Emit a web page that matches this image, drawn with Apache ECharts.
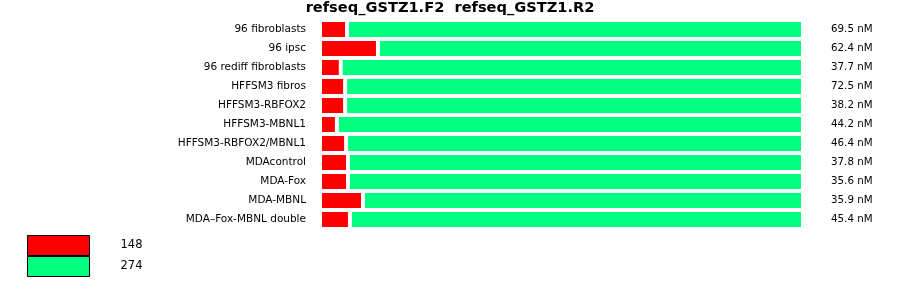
<!DOCTYPE html>
<html>
<head>
<meta charset="utf-8">
<script src="https://cdn.jsdelivr.net/npm/echarts@6/dist/echarts.min.js"></script>
<style>html,body{margin:0;padding:0;background:#fff}#c{width:900px;height:299px}</style>
</head>
<body>
<div id="c"></div>
<script>
var titleText = 'refseq_GSTZ1.F2  refseq_GSTZ1.R2';
var categories = ['96 fibroblasts','96 ipsc','96 rediff fibroblasts','HFFSM3 fibros','HFFSM3-RBFOX2','HFFSM3-MBNL1','HFFSM3-RBFOX2/MBNL1','MDAcontrol','MDA-Fox','MDA-MBNL','MDA–Fox-MBNL double'];
var concLabels = ['69.5 nM','62.4 nM','37.7 nM','72.5 nM','38.2 nM','44.2 nM','46.4 nM','37.8 nM','35.6 nM','35.9 nM','45.4 nM'];
var seriesNames = ['148','274'];
var redValues = [5.6, 12.0, 4.3, 5.2, 5.2, 3.5, 5.4, 5.8, 5.8, 8.9, 6.2];
var greenValues = [94.4, 88.0, 95.7, 94.8, 94.8, 96.5, 94.6, 94.2, 94.2, 91.1, 93.8];

var font = 'DejaVu Sans';
var chart = echarts.init(document.getElementById('c'), null, {renderer: 'canvas'});
chart.setOption({
  animation: false,
  backgroundColor: '#fff',
  title: {
    text: titleText, left: 'center', top: 0, padding: [1, 0, 0, 0],
    textStyle: {fontFamily: font, fontWeight: 'bold', fontSize: 14.6, color: '#000'}
  },
  legend: {
    orient: 'vertical', left: 27, top: 235, padding: 0, itemGap: 0,
    itemWidth: 62, itemHeight: 20, icon: 'rect',
    itemStyle: {borderColor: '#000', borderWidth: 1},
    textStyle: {fontFamily: font, fontSize: 11.5, color: '#000', padding: [0, 0, 0, 26]},
    data: seriesNames
  },
  grid: {left: 320, width: 483, top: 20, height: 209, containLabel: false},
  xAxis: {type: 'value', min: 0, max: 100, show: false},
  yAxis: [
    {type: 'category', data: categories, inverse: true,
     axisLine: {show: false}, axisTick: {show: false}, splitLine: {show: false},
     axisLabel: {fontFamily: font, fontSize: 10.5, color: '#000', margin: 14}},
    {type: 'category', data: concLabels, inverse: true, position: 'right',
     axisLine: {show: false}, axisTick: {show: false}, splitLine: {show: false},
     axisLabel: {fontFamily: font, fontSize: 10.3, color: '#000', margin: 28}}
  ],
  series: [
    {name: seriesNames[0], type: 'bar', stack: 'a', data: redValues, barWidth: 19, barCategoryGap: 0,
     itemStyle: {color: '#ff0000', borderColor: '#fff', borderWidth: 2}},
    {name: seriesNames[1], type: 'bar', stack: 'a', data: greenValues, barWidth: 19,
     itemStyle: {color: '#00ff80', borderColor: '#fff', borderWidth: 2}}
  ]
});
</script>
</body>
</html>
